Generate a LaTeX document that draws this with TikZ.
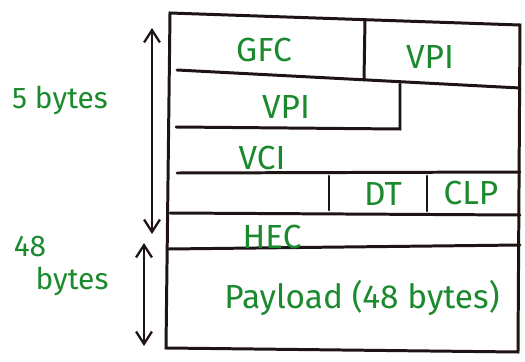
\documentclass[tikz,border=0pt]{standalone}
\usepackage{fontspec}
\setmainfont{Fira Sans}
\usetikzlibrary{positioning, calc, arrows.meta}
\definecolor{Ink}{HTML}{1E1414}
\definecolor{Pen}{HTML}{1B8A2E}
\tikzset{
    cellline/.style={line width=1.7pt, color=Ink, line cap=round},
    field/.style={text=Pen, font=\fontsize{19}{21}\selectfont, inner sep=1pt},
    sidelabel/.style={text=Pen, font=\fontsize{17}{18}\selectfont, inner sep=1pt},
    span/.style={{Straight Barb[length=7pt, width=9pt]}-{Straight Barb[length=7pt, width=9pt]}, line width=1.3pt, color=Ink},
}

\begin{document}
\begin{tikzpicture}[x=0.02cm, y=-0.02cm]
    \useasboundingbox (0,0) rectangle (525,362);

    % Rahmen der Zelle
    \coordinate (TL) at (170,13);
    \coordinate (TR) at (520,25);
    \coordinate (BR) at (518,352);
    \coordinate (BL) at (166,348);
    \draw[cellline] (TL) -- (TR) -- (BR) -- (BL) -- cycle;

    % Header-Zeilen
    \draw[cellline] (177,70) -- (520,88);
    \draw[cellline] (365,20) -- (364,80);
    \draw[cellline] (400,84) -- (400,129) -- (176,127);
    \draw[cellline] (177,173) -- (520,172);
    \draw[cellline] (329,176) -- (329,210);
    \draw[cellline] (427,176) -- (427,211);
    \draw[cellline] (170,213) -- (520,215);
    \draw[cellline] (168,249) -- (520,245);

    % Felder
    \node[field] (gfc) at (264,50) {GFC};
    \node[field] (vpia) at (430,57) {VPI};
    \node[field] (vpib) at (286,107) {VPI};
    \node[field] (vci) at (262,158) {VCI};
    \node[field] (dt) at (383,194) {DT};
    \node[field] (clp) at (471,193) {CLP};
    \node[field] (hec) at (272,237) {HEC};
    \node[field] (payload) at (362,298) {Payload (48 bytes)};

    % Laengenangaben links
    \coordinate (hTop) at (152,28);
    \coordinate (hBot) at (152,234);
    \coordinate (pTop) at (144,243);
    \coordinate (pBot) at (144,346);
    \draw[span] (hTop) -- (hBot);
    \draw[span] (pTop) -- (pBot);
    \node[sidelabel] (hdr) at (60,100) {5 bytes};
    \node[sidelabel] (num) at (30,247) {48};
    \node[sidelabel] (pay) at (72,281) {bytes};
\end{tikzpicture}
\end{document}
